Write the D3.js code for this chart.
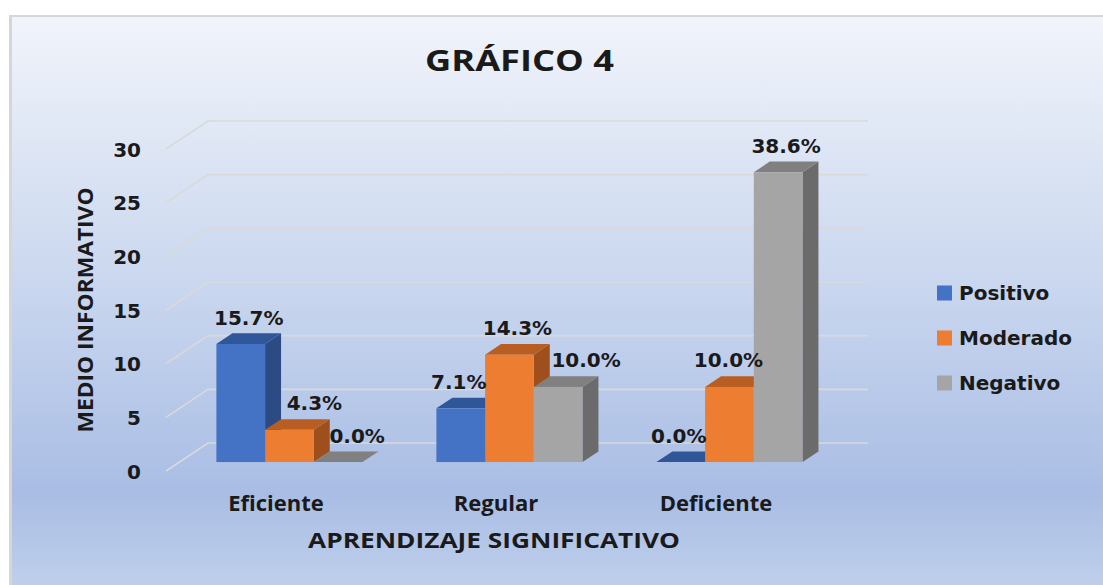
<!DOCTYPE html>
<html><head><meta charset="utf-8">
<script src="https://cdn.jsdelivr.net/npm/d3@7"></script>
<style>html,body{margin:0;padding:0;background:#fff;}svg{display:block;}</style>
</head><body>
<svg id="chart" width="1103" height="585"></svg>
<script>
// ---- data ----
const categories = ["Eficiente", "Regular", "Deficiente"];
const seriesNames = ["Positivo", "Moderado", "Negativo"];
const positivo = [11, 5, 0];
const moderado = [3, 10, 7];
const negativo = [0, 7, 27];
const total = 70;
const yTicks = [0, 5, 10, 15, 20, 25, 30];
const chartTitle = "GRÁFICO 4";
const xTitle = "APRENDIZAJE SIGNIFICATIVO";
const yTitle = "MEDIO INFORMATIVO";

// ---- style / layout ----
const faceColors = {
  Positivo: {front: "#4472c4", top: "#30569a", side: "#2c4b85"},
  Moderado: {front: "#ed7d31", top: "#b95e22", side: "#9e4f1b"},
  Negativo: {front: "#a5a5a5", top: "#808080", side: "#6b6b6b"}
};
const labelNudge = [[0, 17, 11], [-10, 0, 20], [-10, -9, 0]]; // avoid overlaps like the original
const DX = 42, DY = -28, D0 = 0.32, D1 = 0.70;

const seriesValues = [positivo, moderado, negativo];
const svg = d3.select("#chart");

// background + frame
const defs = svg.append("defs");
const grad = defs.append("linearGradient").attr("id", "bg").attr("x1", 0).attr("y1", 0).attr("x2", 0).attr("y2", 1);
grad.append("stop").attr("offset", "0%").attr("stop-color", "#f1f4fb");
grad.append("stop").attr("offset", "45%").attr("stop-color", "#cbd8ef");
grad.append("stop").attr("offset", "84%").attr("stop-color", "#a9bde4");
grad.append("stop").attr("offset", "100%").attr("stop-color", "#bfcfeb");
svg.append("rect").attr("x", 9).attr("y", 15).attr("width", 1094).attr("height", 570).attr("fill", "#d6d6d6");
svg.append("rect").attr("x", 12).attr("y", 17).attr("width", 1091).attr("height", 568).attr("fill", "url(#bg)");

// scales
const x = d3.scaleBand().domain(categories).range([166, 826]).paddingInner(0.336).paddingOuter(0.168);
const xs = d3.scaleBand().domain(seriesNames).range([0, x.bandwidth()]);
const y = d3.scaleLinear().domain([0, 30]).range([471, 149]);
const P = (px, v, d) => [px + DX * d, y(v) + DY * d];

// gridlines (floor-diagonal + back wall)
const x0 = x.range()[0], x1 = x.range()[1];
svg.append("g").selectAll("path").data(yTicks).join("path")
  .attr("d", v => d3.line()([P(x0, v, 0), P(x0, v, 1), P(x1, v, 1)]))
  .attr("fill", "none").attr("stroke", "#d9d9d9").attr("stroke-width", 1.6);

// y axis labels
const yAxis = svg.append("g").attr("transform", "translate(141,0)")
  .call(d3.axisLeft(y).tickValues(yTicks).tickSize(0).tickPadding(0));
yAxis.select(".domain").remove();
yAxis.selectAll("text").attr("font-family", "DejaVu Sans").attr("font-weight", "bold")
  .attr("font-size", 20).attr("fill", "#1a1a1a").attr("dy", "0.36em");

// x axis labels
const xAxis = svg.append("g").attr("transform", "translate(0,495)")
  .call(d3.axisBottom(x).tickSize(0).tickPadding(0));
xAxis.select(".domain").remove();
xAxis.selectAll("text").attr("font-family", "Open Sans").attr("font-weight", "bold")
  .attr("font-size", 22).attr("fill", "#1a1a1a");

// bars
const bars = [];
categories.forEach((c, ci) => {
  seriesNames.forEach((s, si) => {
    bars.push({c, ci, s, si, v: seriesValues[si][ci]});
  });
});
const gBars = svg.append("g");
bars.forEach(b => {
  const xl = x(b.c) + xs(b.s), xr = xl + xs.bandwidth();
  const col = faceColors[b.s];
  const g = gBars.append("g");
  // side
  g.append("path").attr("d", d3.line()([P(xr, 0, D0), P(xr, 0, D1), P(xr, b.v, D1), P(xr, b.v, D0)]) + "Z")
    .attr("fill", col.side);
  // top
  g.append("path").attr("d", d3.line()([P(xl, b.v, D0), P(xr, b.v, D0), P(xr, b.v, D1), P(xl, b.v, D1)]) + "Z")
    .attr("fill", col.top);
  // front
  const [fx, fy] = P(xl, b.v, D0);
  const [, by] = P(xl, 0, D0);
  g.append("rect").attr("x", fx).attr("y", fy).attr("width", xr - xl).attr("height", Math.max(0, by - fy))
    .attr("fill", col.front);
});

// data labels
svg.append("g").selectAll("text").data(bars).join("text")
  .attr("x", b => {
    const xl = x(b.c) + xs(b.s);
    return P(xl + xs.bandwidth() / 2, b.v, (D0 + D1) / 2)[0] + labelNudge[b.ci][b.si];
  })
  .attr("y", b => P(0, b.v, D1)[1] - 16)
  .attr("dy", "0.36em")
  .attr("text-anchor", "middle")
  .attr("font-family", "DejaVu Sans").attr("font-weight", "bold").attr("font-size", 20).attr("fill", "#1a1a1a")
  .text(b => (b.v / total * 100).toFixed(1) + "%");

// legend
const lg = svg.append("g").selectAll("g").data(seriesNames).join("g")
  .attr("transform", (s, i) => `translate(937,${293 + i * 45})`);
lg.append("rect").attr("x", 0).attr("y", -7.5).attr("width", 15).attr("height", 15).attr("fill", s => faceColors[s].front);
lg.append("text").attr("x", 22).attr("dy", "0.36em")
  .attr("font-family", "DejaVu Sans").attr("font-weight", "bold").attr("font-size", 20).attr("fill", "#1a1a1a")
  .text(s => s);

// titles
svg.append("text").attr("x", 519.5).attr("y", 71).attr("text-anchor", "middle")
  .attr("font-family", "Open Sans").attr("font-weight", "bold").attr("font-size", 29).attr("fill", "#1a1a1a")
  .attr("textLength", 189).attr("lengthAdjust", "spacingAndGlyphs").text(chartTitle);
svg.append("text").attr("x", 494).attr("y", 548).attr("text-anchor", "middle")
  .attr("font-family", "Open Sans").attr("font-weight", "bold").attr("font-size", 22).attr("fill", "#1a1a1a")
  .attr("textLength", 372).attr("lengthAdjust", "spacingAndGlyphs").text(xTitle);
svg.append("text").attr("transform", "translate(93,310) rotate(-90)").attr("text-anchor", "middle")
  .attr("font-family", "Open Sans").attr("font-weight", "bold").attr("font-size", 22).attr("fill", "#1a1a1a")
  .attr("textLength", 245).attr("lengthAdjust", "spacingAndGlyphs").text(yTitle);
</script>
</body></html>
